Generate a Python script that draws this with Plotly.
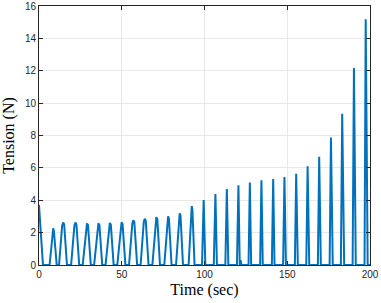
import plotly.graph_objects as go

# Time samples (sec) and tension values (N)
time_s = [
    0.0, 0.8, 2.4,
    6.4, 8.2, 8.6, 9.0, 10.7,
    12.1, 14.0, 14.6, 15.2, 16.9,
    19.4, 21.4, 22.0, 22.6, 24.3,
    26.4, 28.4, 29.0, 29.6, 31.3,
    33.3, 35.3, 35.9, 36.5, 38.2,
    40.2, 42.2, 42.8, 43.4, 45.1,
    47.3, 49.3, 49.9, 50.5, 52.2,
    54.4, 56.4, 57.0, 57.6, 59.3,
    61.4, 63.3, 63.9, 64.5, 66.2,
    68.5, 70.4, 70.9, 71.5, 73.1,
    75.7, 77.5, 78.0, 78.5, 80.1,
    82.8, 84.5, 85.0, 85.5, 87.0,
    90.4, 91.8, 92.3, 92.7, 94.0,
    98.5, 99.5, 100.5,
    105.6, 106.6, 107.5,
    112.6, 113.5, 114.4,
    119.6, 120.5, 121.3, 121.8, 122.3,
    126.6, 127.4, 128.2,
    133.6, 134.4, 135.2,
    140.7, 141.5, 142.3,
    147.5, 148.3, 149.2,
    154.6, 155.4, 156.4,
    161.5, 162.3, 163.3,
    168.5, 169.3, 170.3,
    175.6, 176.4, 177.5,
    182.4, 183.2, 184.4,
    189.5, 190.3, 191.4,
    196.7, 197.4, 198.6,
    200.0,
]
tension_n = [
    3.70, 2.40, 0.0,
    0.0, 2.10, 2.27, 2.10, 0.0,
    0.0, 2.44, 2.62, 2.52, 0.0,
    0.0, 2.44, 2.62, 2.52, 0.0,
    0.0, 2.39, 2.57, 2.47, 0.0,
    0.0, 2.39, 2.57, 2.47, 0.0,
    0.0, 2.42, 2.60, 2.50, 0.0,
    0.0, 2.46, 2.64, 2.53, 0.0,
    0.0, 2.57, 2.76, 2.65, 0.0,
    0.0, 2.66, 2.86, 2.75, 0.0,
    0.0, 2.75, 2.96, 2.84, 0.0,
    0.0, 2.79, 3.00, 2.88, 0.0,
    0.0, 2.97, 3.19, 3.06, 0.0,
    0.0, 3.30, 3.64, 3.40, 0.0,
    0.0, 4.01, 0.0,
    0.0, 4.39, 0.0,
    0.0, 4.69, 0.0,
    0.0, 4.92, 0.0, 0.3, 0.0,
    0.0, 5.10, 0.0,
    0.0, 5.23, 0.0,
    0.0, 5.31, 0.0,
    0.0, 5.44, 0.0,
    0.0, 5.64, 0.0,
    0.0, 6.10, 0.0,
    0.0, 6.69, 0.0,
    0.0, 7.87, 0.0,
    0.0, 9.35, 0.0,
    0.0, 12.17, 0.0,
    0.0, 15.18, 0.0,
    0.0,
]

x_ticks = [0, 50, 100, 150, 200]
y_ticks = [0, 2, 4, 6, 8, 10, 12, 14, 16]

fig = go.Figure()
fig.add_trace(go.Scatter(
    x=time_s, y=tension_n, mode="lines",
    line=dict(color="#0072BD", width=2),
    showlegend=False, hoverinfo="skip",
))

axis_common = dict(
    showline=True, linecolor="#262626", linewidth=1, mirror="ticks",
    ticks="inside", ticklen=4, tickcolor="#262626", tickwidth=1,
    showgrid=True, gridcolor="#e8e8e8", gridwidth=1,
    zeroline=False,
    tickfont=dict(family="Liberation Sans, Arial", size=10, color="#262626"),
    automargin=False,
)

fig.update_layout(
    width=381, height=303,
    margin=dict(l=39, r=11, t=6, b=38),
    paper_bgcolor="white", plot_bgcolor="white",
    xaxis=dict(
        range=[0, 200], tickvals=x_ticks, ticktext=[str(v) for v in x_ticks],
        title=dict(text="Time (sec)", font=dict(family="Liberation Serif, serif", size=16, color="#000000"), standoff=4),
        **axis_common,
    ),
    yaxis=dict(
        range=[0, 16], tickvals=y_ticks, ticktext=[str(v) for v in y_ticks],
        title=dict(text="Tension (N)", font=dict(family="Liberation Serif, serif", size=16, color="#000000"), standoff=8),
        **axis_common,
    ),
)

fig.write_html("out.html", config={"displayModeBar": False},
               post_script="document.body.style.margin='0';")
